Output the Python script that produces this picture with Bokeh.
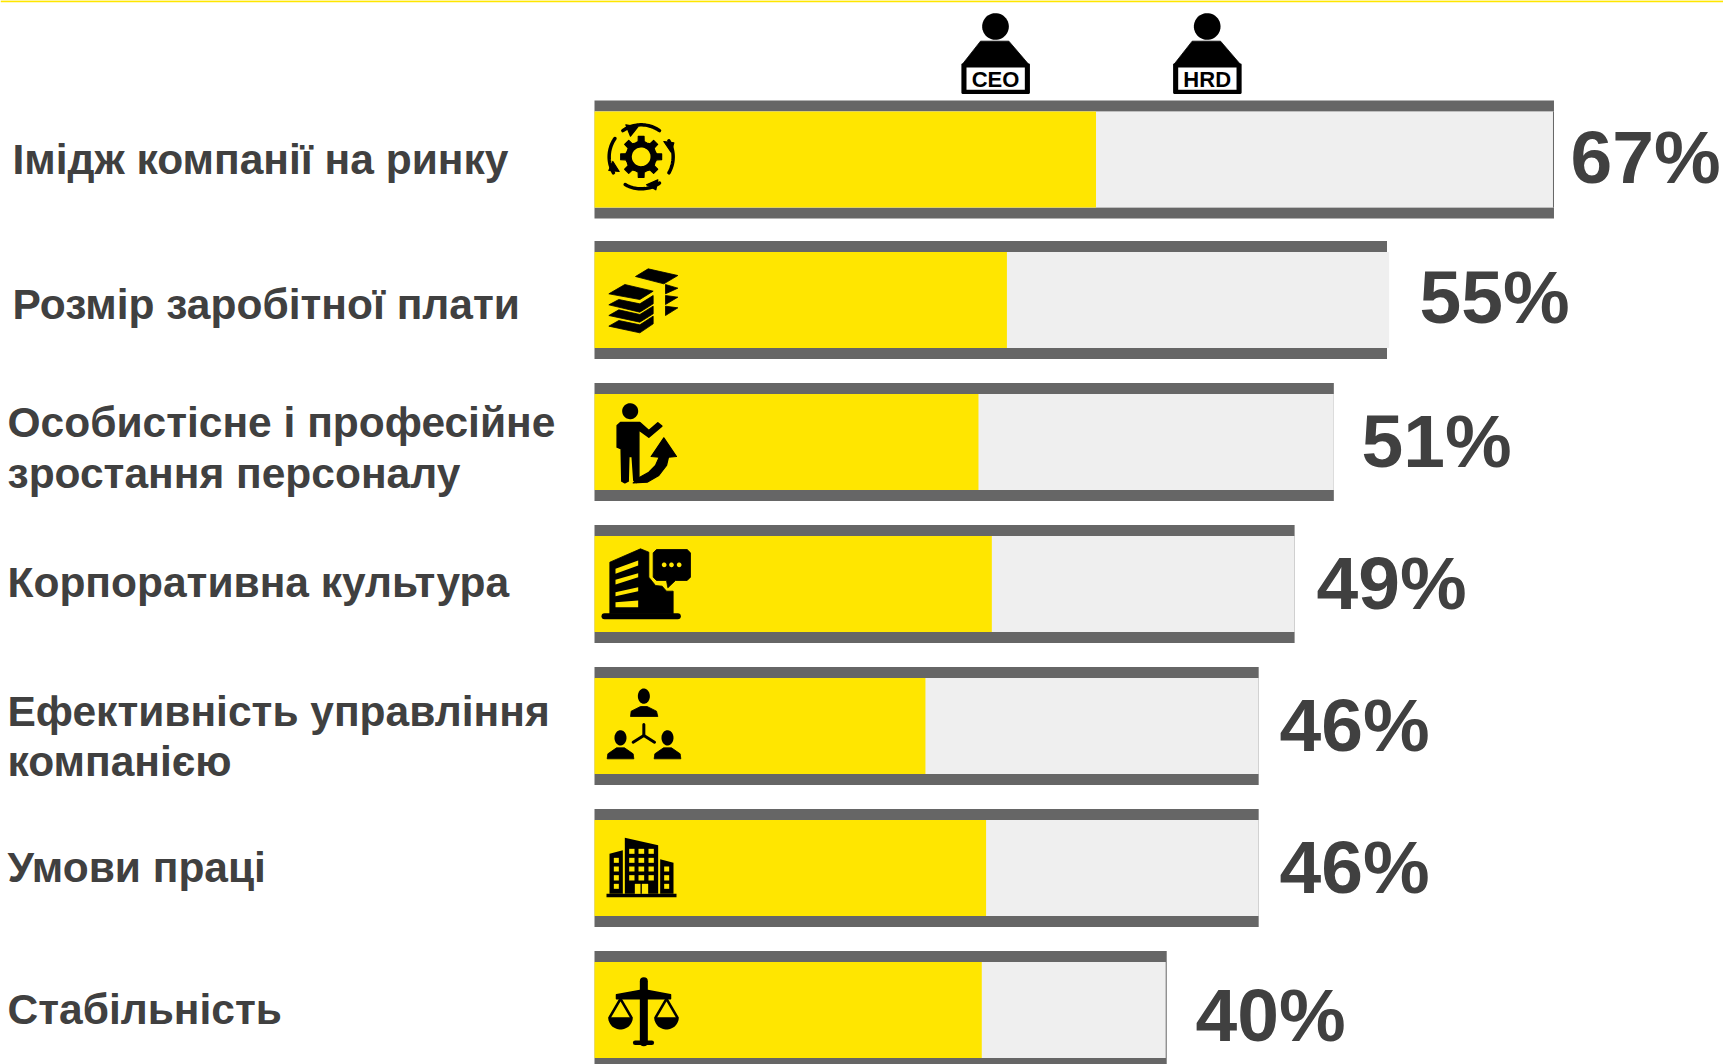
import numpy as np
from bokeh.plotting import figure
from bokeh.models import Range1d
from bokeh.core.properties import value
from bokeh.embed import file_html
from bokeh.resources import INLINE

# ---- data ----
categories = [["Імідж компанії на ринку"], ["Розмір заробітної плати"],
              ["Особистісне і професійне", "зростання персоналу"], ["Корпоративна культура"],
              ["Ефективність управління", "компанією"], ["Умови праці"], ["Стабільність"]]
percent_labels = ["67%", "55%", "51%", "49%", "46%", "46%", "40%"]
band_values = [66.77, 55.15, 51.45, 48.72, 46.22, 46.22, 39.82]
track_values = [66.7, 55.3, 51.45, 48.72, 46.22, 46.22, 39.75]
yellow_values = [34.9, 28.7, 26.72, 27.65, 23.03, 27.25, 26.95]

# ---- layout (reference-page pixels) ----
W, H = 1723, 1064
LEFT, PX_PER = 594.0, 14.37
ROW_TOP = [100, 240.5, 382.5, 524.5, 666.5, 808.5, 950.5]
BAND, INNER = 11, 96
YELLOW, DARK, LIGHT, TEXT = "#FFE600", "#666666", "#EFEFEF", "#404040"
FONT = value("Liberation Sans")
LABEL_X = [12, 12, 7, 7, 7, 7, 7]
LABEL_Y = [[159], [304], [422, 473], [582], [711, 761], [867], [1009]]
PCT_X = [1570, 1419, 1361, 1316, 1279, 1279, 1195]
PCT_Y = [156, 296, 440, 582, 724, 866, 1014]

p = figure(width=W, height=H, output_backend="svg", toolbar_location=None,
           x_range=Range1d(-LEFT / PX_PER, (W - LEFT) / PX_PER),
           y_range=Range1d(H, 0), min_border=0, outline_line_color=None,
           x_axis_type=None, y_axis_type=None)
p.extra_x_ranges["px"] = Range1d(0, W)
p.grid.visible = False

tops = np.array(ROW_TOP)
# bars
p.quad(left=0, right=band_values, top=tops, bottom=tops + BAND, color=DARK, line_color=None)
p.quad(left=0, right=band_values, top=tops + BAND + INNER, bottom=tops + 2 * BAND + INNER, color=DARK, line_color=None)
p.quad(left=0, right=band_values, top=tops + BAND, bottom=tops + BAND + INNER, color=DARK, line_color=None)
p.quad(left=0, right=track_values, top=tops + BAND, bottom=tops + BAND + INNER, color=LIGHT, line_color=None)
p.quad(left=0, right=yellow_values, top=tops + BAND, bottom=tops + BAND + INNER, color=YELLOW, line_color=None)

# top rule
p.line([0, W], [0.8, 0.8], x_range_name="px", color=YELLOW, line_width=2)

# texts
for lines, x, ys in zip(categories, LABEL_X, LABEL_Y):
    p.text(x=[x] * len(lines), y=ys, text=lines, x_range_name="px", text_font=FONT,
           text_font_style="bold", text_font_size="42.5px", text_color=TEXT,
           text_align="left", text_baseline="middle")
p.text(x=PCT_X, y=PCT_Y, text=percent_labels, x_range_name="px", text_font=FONT,
       text_font_style="bold", text_font_size="75px", text_color=TEXT,
       text_align="left", text_baseline="middle")


# ---- icon helpers: shapes given in 3x crop coordinates ----
def conv(o, pts):
    a = np.array(pts, dtype=float)
    return list(o[0] + a[:, 0] / 3), list(o[1] + a[:, 1] / 3)


def poly(o, pts, color="black", lw=0.8):
    xs, ys = conv(o, pts)
    p.patch(xs, ys, x_range_name="px", fill_color=color, line_color=color, line_width=lw, line_join="round")


def stroke(o, pts, lw, color="black"):
    xs, ys = conv(o, pts)
    p.line(xs, ys, x_range_name="px", color=color, line_width=lw, line_cap="round", line_join="round")


def disc(o, c, rx, ry=None, color="black"):
    ry = rx if ry is None else ry
    t = np.linspace(0, 2 * np.pi, 48)
    poly(o, np.c_[c[0] + rx * np.cos(t), c[1] + ry * np.sin(t)], color, 0)


def rect(o, x0, y0, x1, y1, color="black", lw=0.0):
    poly(o, [(x0, y0), (x1, y0), (x1, y1), (x0, y1)], color, lw)


def arc_pts(c, r, a0, a1):
    t = np.radians(np.linspace(a0, a1, 24))
    return np.c_[c[0] + r * np.cos(t), c[1] + r * np.sin(t)]


# manager figures
for o, txt in ((900, "CEO"), (1111.7, "HRD")):
    oo = (o, 0)
    disc(oo, (285, 78), 40)
    poly(oo, [(240, 122), (325, 122), (385, 192), (185, 192)])
    rect(oo, 186, 192, 385, 277, "black", 2.2)
    rect(oo, 198, 201, 373, 268, "white")
    p.text(x=[o + 285 / 3], y=[79], text=[txt], x_range_name="px", text_font=FONT,
           text_font_style="bold", text_font_size="22px", text_color="black",
           text_align="center", text_baseline="middle")

# 1 gear
o = (580, 95)
c = (182, 184)
gear = []
for k in range(8):
    a = k * 45
    for da, r in ((-22.5, 45), (-11, 47), (-8, 62), (8, 62), (11, 47), (22.5, 45)):
        gear.append((c[0] + r * np.cos(np.radians(a + da)), c[1] + r * np.sin(np.radians(a + da))))
poly(o, gear, lw=1.2)
disc(o, c, 28, color=YELLOW)
for a0, a1 in ((-125, -55), (-30, 30), (55, 120), (150, 215)):
    stroke(o, arc_pts(c, 96, a0, a1), 3.5)
poly(o, [(136, 88), (150, 122), (172, 94)], lw=1.2)
poly(o, [(250, 138), (280, 142), (272, 170)], lw=1.2)
poly(o, [(232, 253), (226, 283), (198, 268)], lw=1.2)
poly(o, [(85, 225), (116, 228), (97, 198)], lw=1.2)

# 2 stacks
poly(o, [(165, 543), (203, 520), (292, 540), (250, 565)])
poly(o, [(255, 567), (292, 578), (255, 595)])
poly(o, [(255, 600), (292, 605), (255, 627)])
poly(o, [(255, 632), (292, 637), (255, 660)])
poly(o, [(85, 595), (133, 567), (218, 587), (178, 612)])
poly(o, [(85, 628), (115, 612), (178, 625), (218, 600), (218, 625), (178, 650)])
poly(o, [(85, 660), (115, 643), (178, 657), (218, 632), (218, 655), (178, 680)])
poly(o, [(85, 692), (115, 675), (178, 688), (218, 662), (218, 685), (178, 712)])

# 3 person with arrow
o = (580, 380)
disc(o, (149, 92), 24)
poly(o, [(110, 135), (120, 126), (178, 126), (205, 150), (232, 127), (244, 137), (205, 170), (175, 148),
         (175, 300), (168, 306), (160, 300), (155, 228), (145, 228), (143, 302), (133, 307), (124, 302),
         (122, 205), (110, 200)], lw=1.5)
poly(o, [(158, 307), (200, 305), (235, 285), (258, 255), (264, 230), (288, 228), (250, 172), (212, 228),
         (236, 230), (225, 255), (205, 275), (178, 290)], lw=1.2)

# 4 building with bubble
stroke(o, [(72, 707), (292, 707)], 6)
poly(o, [(88, 545), (180, 505), (205, 515), (205, 590), (225, 615), (245, 617), (258, 632), (278, 632),
         (278, 700), (88, 700)])
for w in ([(105, 565), (173, 540), (173, 555), (105, 580)], [(105, 598), (173, 578), (173, 590), (105, 612)],
          [(105, 635), (173, 620), (173, 632), (105, 647)], [(105, 665), (173, 660), (173, 680), (105, 680)]):
    poly(o, w, YELLOW, 0)
poly(o, [(228, 507), (320, 507), (330, 517), (330, 590), (320, 600), (285, 600), (262, 622), (258, 600),
         (228, 600), (218, 590), (218, 517)])
for cx in (251, 273, 296):
    disc(o, (cx, 553), 7, color=YELLOW)

# 5 people
o = (580, 660)
disc(o, (190, 107), 18, 23)
poly(o, [(150, 168), (152, 152), (180, 138), (200, 138), (228, 152), (232, 168)])
for dx in (0, 141):
    disc(o, (120 + dx, 232), 18, 23)
    poly(o, [(80 + dx, 295), (82 + dx, 280), (108 + dx, 262), (132 + dx, 262), (158 + dx, 280), (160 + dx, 295)])
stroke(o, [(190, 192), (190, 225), (158, 245)], 3)
stroke(o, [(190, 225), (222, 245)], 3)

# 6 buildings
rect(o, 78, 700, 288, 710)
poly(o, [(133, 532), (233, 554), (233, 700), (133, 700)], lw=0)
poly(o, [(87, 580), (127, 569), (127, 700), (87, 700)], lw=0)
poly(o, [(239, 596), (279, 607), (279, 700), (239, 700)], lw=0)
for yy in ((565, 580), (592, 607), (618, 633), (644, 660)):
    for xx in ((146, 162), (174, 191), (204, 220)):
        rect(o, xx[0], yy[0], xx[1], yy[1], YELLOW)
for yy in ((592, 607), (618, 633), (644, 660), (670, 685)):
    rect(o, 100, yy[0], 115, yy[1], YELLOW)
for yy in ((618, 633), (644, 660), (670, 685)):
    rect(o, 251, yy[0], 266, yy[1], YELLOW)
rect(o, 163, 670, 180, 700, YELLOW)
rect(o, 184, 670, 203, 700, YELLOW)

# 7 scales
stroke(o, [(190, 962), (190, 1145)], 8)
stroke(o, [(164, 1147), (214, 1147)], 4.5)
poly(o, [(108, 1003), (178, 990), (202, 990), (270, 1003), (270, 1015), (108, 1015)], lw=1.5)
for cx in (120, 258):
    stroke(o, [(cx - 32, 1070), (cx, 1015), (cx + 32, 1070)], 2.6)
    poly(o, arc_pts((cx, 1070), 37, 0, 180), lw=0)

open("out.html", "w").write(file_html(p, INLINE))
